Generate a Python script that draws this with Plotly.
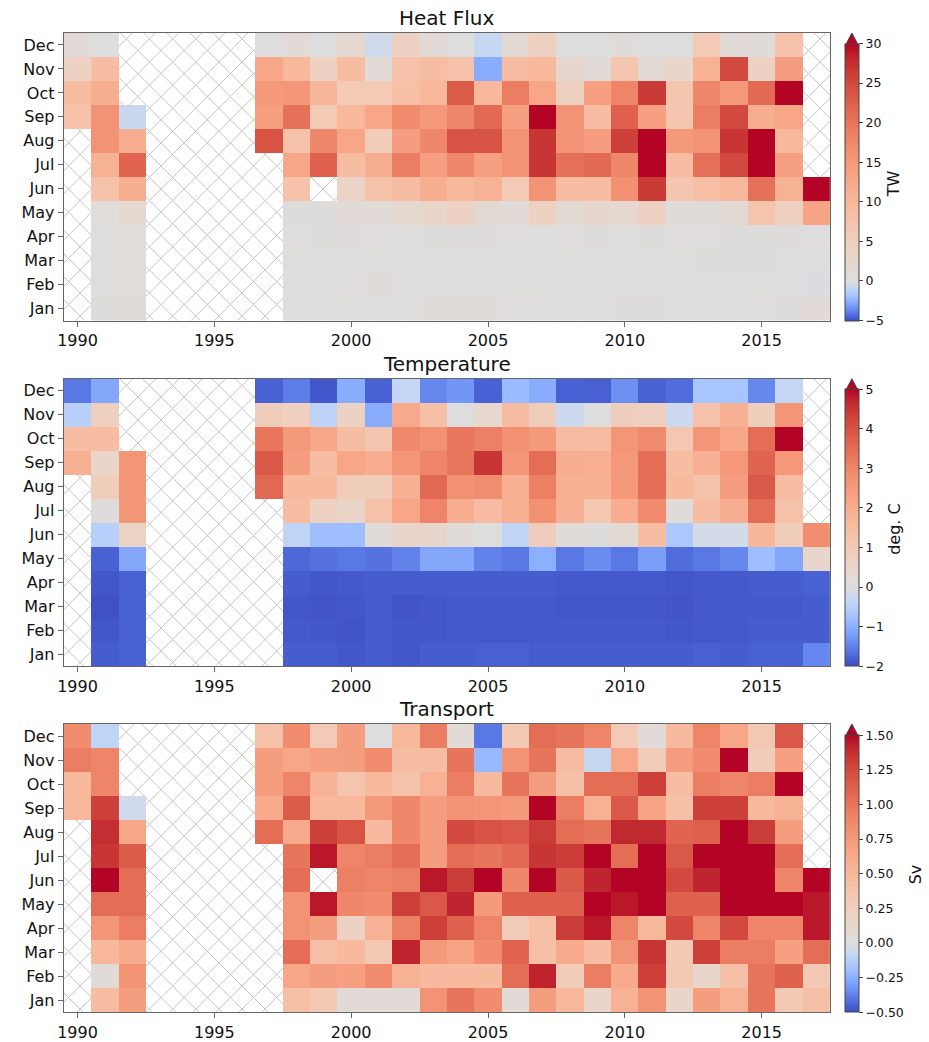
import plotly.graph_objects as go

# ---------------- data ----------------
years = list(range(1990, 2018))
months = ["Jan", "Feb", "Mar", "Apr", "May", "Jun", "Jul", "Aug", "Sep", "Oct", "Nov", "Dec"]
N = None

# Heat flux (TW), columns 1990..2017
heat_dec = [1, 0, N, N, N, N, N, 0, 1, 0, 2, -0.5, 4, 1, 0, -0.8, 1.5, 4.5, 0, 0, 0.7, 0, 0, 6, 1, 0.7, 8, N]
heat_nov = [4, 9, N, N, N, N, N, 13, 10, 4, 9, 1, 8, 9, 8, -2.6, 9, 10, 2.5, 1, 7, 1.5, 3, 11, 25, 4, 14.5, N]
heat_oct = [9, 12, N, N, N, N, N, 15, 15.5, 10.5, 6, 6, 8.5, 10, 23, 10, 19, 13, 4.5, 14, 18, 26.5, 7, 17.5, 15, 21.5, 31, N]
heat_sep = [8, 16, -0.7, N, N, N, N, 14, 20.5, 6, 10, 13, 17, 15, 17.5, 21.5, 14, 31, 16, 9, 22.5, 14, 7, 19, 25, 12, 13, N]
heat_aug = [N, 16, 12, N, N, N, N, 24, 8, 17.5, 13, 5.5, 14.5, 17.5, 24, 24, 16, 27, 16, 14.5, 26, 32, 15, 16, 27, 32, 10, N]
heat_jul = [N, 11, 22, N, N, N, N, N, 13, 22.5, 9, 12, 19, 14, 17.5, 14, 16, 27, 20.5, 21.5, 17.5, 32, 9, 20.5, 25, 32, 14, N]
heat_jun = [N, 8, 12, N, N, N, N, N, 8, N, 3.5, 8, 9, 12, 10, 11, 6, 16, 9, 9, 16.5, 26.5, 7, 8.8, 10, 20.5, 11, 31]
heat_may = [N, 0.5, 2, N, N, N, N, N, 0.3, 0.3, 1, 1, 2, 3, 4, 1.5, 1, 4, 1.5, 2.5, 2, 4, 0.8, 0.8, 1.5, 7.5, 4.5, 13.5]
heat_apr = [N, 0.2, 0.5, N, N, N, N, N, 0.2, 0.3, 0.3, 0.2, 0.2, 0.3, 0.3, 0.3, 0.2, 0.2, 0.2, 0.3, 0.2, 0.3, 0.2, 0.2, 0.3, 0.3, 0.3, 0.2]
heat_mar = [N, 0.2, 0.5, N, N, N, N, N, 0.1, 0.2, 0.1, 0.1, 0.2, 0.2, 0.1, 0.1, 0.2, 0.2, 0.1, 0.1, 0.2, 0.2, 0.1, 0.3, 0.3, 0.3, 0.1, 0]
heat_feb = [N, 0.2, 0.5, N, N, N, N, N, 0.1, 0.1, 0.2, 0.6, 0.2, 0.1, 0.1, 0.1, 0.1, 0.1, 0.1, 0.1, 0.1, 0.1, 0.2, 0.2, 0.2, 0.1, 0.1, -0.1]
heat_jan = [N, 0.3, 0.6, N, N, N, N, N, 0.1, 0.1, 0.1, 0.1, 0.2, 0.6, 0.6, 0.6, 0.2, 0.2, 0.1, 0.1, 0.3, 0.3, 0.2, 0.2, 0.2, 0.2, 0.3, 1]

# Temperature (deg. C)
temp_dec = [-1.6, -1.1, N, N, N, N, N, -1.8, -1.55, -1.9, -1.05, -1.8, -0.35, -1.45, -1.3, -1.8, -0.85, -1.05, -1.8, -1.82, -1.35, -1.8, -1.7, -0.7, -0.7, -1.45, -0.35, N]
temp_nov = [-0.5, 0.8, N, N, N, N, N, 0.9, 0.8, -0.45, 0.7, -1.05, 2.1, 1.4, 0, 0.4, 1.55, 0.9, -0.25, 0, 0.85, 0.75, -0.25, 1.35, 1.9, 0.85, 2.6, N]
temp_oct = [1.5, 1.5, N, N, N, N, N, 3.3, 2.5, 2.2, 1.5, 1.2, 2.9, 2.7, 3.3, 3.1, 2.7, 2.5, 1.55, 1.55, 2.6, 2.85, 1.15, 2.6, 2.2, 3.5, 5.1, N]
temp_sep = [1.9, 0.5, 2.6, N, N, N, N, 3.9, 2.4, 1.5, 2.2, 2.0, 2.6, 3.0, 3.3, 4.5, 2.6, 3.5, 2.0, 1.95, 2.55, 3.5, 1.5, 1.9, 2.55, 3.65, 2.55, N]
temp_aug = [N, 0.9, 2.6, N, N, N, N, 3.6, 1.6, 1.6, 0.9, 0.9, 1.9, 3.6, 2.7, 2.8, 1.9, 3.1, 1.9, 1.9, 2.5, 3.5, 1.6, 1.35, 2.45, 3.9, 1.5, N]
temp_jul = [N, 0.05, 2.6, N, N, N, N, N, 1.5, 0.75, 0.55, 1.35, 2.2, 3.0, 2.0, 1.55, 1.95, 2.7, 1.9, 1.15, 2.0, 2.85, 0.1, 1.5, 2.0, 3.5, 1.35, N]
temp_jun = [N, -0.5, 0.6, N, N, N, N, N, -0.4, -0.8, -0.8, 0.1, 0.5, 0.45, 0.1, 0, -0.4, 0.9, 0.15, 0.05, 0.25, 1.5, -0.65, -0.15, -0.15, 1.7, 0.9, 2.8]
temp_may = [N, -1.8, -1.1, N, N, N, N, N, -1.75, -1.65, -1.6, -1.65, -1.5, -1.1, -1.1, -1.5, -1.6, -1.0, -1.6, -1.4, -1.6, -1.2, -1.7, -1.6, -1.45, -0.8, -1.1, 0.45]
temp_apr = [N, -1.9, -1.8, N, N, N, N, N, -1.85, -1.9, -1.88, -1.85, -1.85, -1.85, -1.85, -1.85, -1.85, -1.85, -1.88, -1.88, -1.88, -1.88, -1.9, -1.88, -1.88, -1.85, -1.85, -1.8]
temp_mar = [N, -1.95, -1.8, N, N, N, N, N, -1.9, -1.92, -1.9, -1.85, -1.92, -1.9, -1.88, -1.88, -1.88, -1.88, -1.9, -1.9, -1.9, -1.9, -1.92, -1.88, -1.88, -1.88, -1.88, -1.85]
temp_feb = [N, -1.9, -1.8, N, N, N, N, N, -1.88, -1.9, -1.92, -1.85, -1.9, -1.9, -1.88, -1.88, -1.88, -1.88, -1.88, -1.88, -1.88, -1.88, -1.9, -1.88, -1.88, -1.85, -1.85, -1.85]
temp_jan = [N, -1.85, -1.8, N, N, N, N, N, -1.85, -1.85, -1.9, -1.85, -1.9, -1.85, -1.85, -1.82, -1.82, -1.85, -1.85, -1.85, -1.85, -1.85, -1.85, -1.82, -1.85, -1.8, -1.8, -1.45]

# Transport (Sv)
trans_dec = [0.85, -0.1, N, N, N, N, N, 0.4, 0.85, 0.3, 0.72, 0, 0.5, 0.95, 0.05, -0.4, 0.32, 1.05, 1.0, 0.9, 0.3, 0.05, 0.48, 0.9, 0.65, 0.32, 1.17, N]
trans_nov = [0.95, 0.9, N, N, N, N, N, 0.72, 0.65, 0.7, 0.72, 0.85, 0.45, 0.45, 1.0, -0.22, 0.8, 1.0, 0.45, -0.08, 0.65, 0.28, 0.72, 0.85, 1.55, 0.28, 0.7, N]
trans_oct = [0.5, 0.9, N, N, N, N, N, 0.72, 0.9, 0.55, 0.38, 0.5, 0.4, 0.55, 0.95, 0.48, 1.0, 0.72, 0.42, 1.05, 1.05, 1.3, 0.45, 0.95, 0.9, 0.95, 1.55, N]
trans_sep = [0.5, 1.3, -0.05, N, N, N, N, 0.62, 1.15, 0.5, 0.5, 0.75, 0.88, 0.72, 0.8, 0.78, 0.75, 1.55, 0.95, 0.55, 1.17, 0.67, 0.42, 1.3, 1.3, 0.5, 0.55, N]
trans_aug = [N, 1.38, 0.65, N, N, N, N, 1.05, 0.62, 1.3, 1.2, 0.48, 0.88, 0.72, 1.25, 1.2, 1.17, 1.32, 1.05, 1.0, 1.4, 1.4, 1.1, 1.12, 1.55, 1.32, 0.72, N]
trans_jul = [N, 1.35, 1.15, N, N, N, N, N, 1.0, 1.45, 0.9, 0.95, 1.05, 0.72, 1.05, 1.0, 1.07, 1.35, 1.32, 1.55, 1.05, 1.6, 1.17, 1.6, 1.6, 1.6, 1.05, N]
trans_jun = [N, 1.55, 1.05, N, N, N, N, N, 1.05, N, 0.93, 0.9, 0.93, 1.45, 1.32, 1.55, 0.88, 1.5, 1.17, 1.42, 1.55, 1.6, 1.25, 1.42, 1.6, 1.5, 0.9, 1.6]
trans_may = [N, 1.05, 1.05, N, N, N, N, N, 0.8, 1.45, 0.88, 0.85, 1.3, 1.17, 1.42, 0.75, 1.12, 1.12, 1.12, 1.5, 1.45, 1.55, 1.12, 1.12, 1.6, 1.6, 1.6, 1.45]
trans_apr = [N, 0.78, 0.95, N, N, N, N, N, 0.8, 0.72, 0.2, 0.55, 0.93, 1.3, 1.12, 0.9, 0.28, 0.42, 1.32, 1.45, 0.9, 0.5, 1.25, 0.9, 1.25, 0.9, 0.9, 1.45]
trans_mar = [N, 0.5, 0.62, N, N, N, N, N, 1.05, 0.42, 0.48, 0.32, 1.42, 0.75, 0.67, 0.85, 1.1, 0.42, 0.62, 0.45, 0.8, 1.35, 0.32, 1.3, 0.95, 0.95, 0.7, 1.05]
trans_feb = [N, 0.05, 0.8, N, N, N, N, N, 0.65, 0.72, 0.7, 0.85, 0.55, 0.48, 0.48, 0.48, 1.05, 1.42, 0.28, 0.95, 0.62, 1.3, 0.32, 0.15, 0.42, 1.0, 1.12, 0.32]
trans_jan = [N, 0.45, 0.72, N, N, N, N, N, 0.42, 0.32, 0.05, 0.05, 0.05, 0.8, 1.0, 0.85, 0.05, 0.72, 0.5, 0.15, 0.55, 0.8, 0.15, 0.72, 0.55, 1.0, 0.32, 0.42]

heat_ticks = [-5, 0, 5, 10, 15, 20, 25, 30]
temp_ticks = [-2, -1, 0, 1, 2, 3, 4, 5]
trans_ticks = [-0.5, -0.25, 0, 0.25, 0.5, 0.75, 1.0, 1.25, 1.5]
year_ticks = [1990, 1995, 2000, 2005, 2010, 2015]

# ---------------- colormap (matplotlib coolwarm) ----------------
COOLWARM = [
    (59, 76, 192), (68, 90, 204), (77, 104, 215), (87, 117, 225), (98, 130, 234),
    (108, 142, 241), (119, 154, 247), (130, 165, 251), (141, 176, 254), (152, 185, 255),
    (163, 194, 255), (174, 201, 253), (184, 208, 249), (194, 213, 244), (204, 217, 238),
    (213, 219, 230), (221, 221, 221), (229, 216, 209), (236, 211, 197), (241, 204, 184),
    (245, 196, 173), (247, 187, 160), (247, 177, 148), (247, 166, 135), (244, 154, 123),
    (241, 141, 111), (236, 127, 99), (229, 112, 88), (222, 96, 77), (213, 80, 66),
    (203, 62, 56), (192, 40, 47), (180, 4, 38)]


def diverging_scale(vmin, vmax):
    p0 = -vmin / (vmax - vmin)
    n = len(COOLWARM) - 1
    scale = []
    for i, c in enumerate(COOLWARM):
        f = i / n
        pos = f / 0.5 * p0 if f <= 0.5 else p0 + (f - 0.5) / 0.5 * (1 - p0)
        scale.append([pos, "rgb(%d,%d,%d)" % c])
    return scale


def fmt_tick(v, dec):
    s = ("%." + str(dec) + "f") % abs(v)
    return ("\u2212" + s) if v < 0 else s


# ---------------- layout geometry (pixels) ----------------
W, H = 929, 1042
L_PX, R_PX = 57.3, 829.3
panels = [
    dict(name="Heat Flux", unit="TW", rows=[heat_jan, heat_feb, heat_mar, heat_apr, heat_may, heat_jun,
                                           heat_jul, heat_aug, heat_sep, heat_oct, heat_nov, heat_dec],
         vmin=-5, vmax=30, ticks=heat_ticks, dec=0, top=33.3, bot=323.3, unit_x=893.5),
    dict(name="Temperature", unit="deg. C", rows=[temp_jan, temp_feb, temp_mar, temp_apr, temp_may, temp_jun,
                                                 temp_jul, temp_aug, temp_sep, temp_oct, temp_nov, temp_dec],
         vmin=-2, vmax=5, ticks=temp_ticks, dec=0, top=382.0, bot=672.0, unit_x=893.5),
    dict(name="Transport", unit="Sv", rows=[trans_jan, trans_feb, trans_mar, trans_apr, trans_may, trans_jun,
                                           trans_jul, trans_aug, trans_sep, trans_oct, trans_nov, trans_dec],
         vmin=-0.5, vmax=1.5, ticks=trans_ticks, dec=2, top=730.3, bot=1021.0, unit_x=915.5),
]

FONT = "DejaVu Sans"
AXCOL = "#666666"
fig = go.Figure()
shapes = []
annotations = []

CB_X0, CB_W, TRI_H = 844.3, 14.0, 13.4
HATCH_P = 23.3
HATCH_REF = (318.3, 190.7)

x_lo, x_hi = years[0] - 0.5, years[-1] + 0.5
y_lo, y_hi = -0.5, len(months) - 0.5

for i, p in enumerate(panels):
    k = "" if i == 0 else str(i + 1)
    top, bot = p["top"], p["bot"]
    ydom = [1 - bot / H, 1 - top / H]
    xdom = [L_PX / W, R_PX / W]
    cb_len = (bot - top) - TRI_H

    fig.add_trace(go.Heatmap(
        x=years, y=list(range(12)), z=p["rows"],
        zmin=p["vmin"], zmax=p["vmax"],
        colorscale=diverging_scale(p["vmin"], p["vmax"]),
        xaxis="x" + k, yaxis="y" + k, hoverinfo="skip",
        colorbar=dict(
            x=CB_X0 / W, xanchor="left", xpad=0,
            y=ydom[0], yanchor="bottom", ypad=0,
            len=cb_len, lenmode="pixels", thickness=CB_W,
            outlinewidth=1, outlinecolor="#444444",
            tickmode="array", tickvals=p["ticks"],
            ticktext=[fmt_tick(v, p["dec"]) for v in p["ticks"]],
            ticks="outside", ticklen=4, tickwidth=1, tickcolor="#444444",
            tickfont=dict(family=FONT, size=12.5, color="#111111"),
        ),
    ))

    fig.update_layout(**{
        "xaxis" + k: dict(domain=xdom, range=[x_lo, x_hi], anchor="y" + k,
                          tickmode="array", tickvals=year_ticks, ticks="outside", ticklen=5,
                          tickwidth=1.2, tickcolor=AXCOL, showline=True, mirror=True,
                          linecolor=AXCOL, linewidth=1.4, showgrid=False, zeroline=False,
                          tickfont=dict(family=FONT, size=16, color="#111111")),
        "yaxis" + k: dict(domain=ydom, range=[y_lo, y_hi], anchor="x" + k,
                          tickmode="array", tickvals=list(range(12)), ticktext=months,
                          ticks="outside", ticklen=5, tickwidth=1.2, tickcolor=AXCOL,
                          showline=True, mirror=True, linecolor=AXCOL, linewidth=1.4,
                          showgrid=False, zeroline=False,
                          tickfont=dict(family=FONT, size=16, color="#111111")),
    })

    # hatch for missing data (drawn below the heatmap, clipped to the axes)
    sx = (R_PX - L_PX) / (x_hi - x_lo)
    sy = (bot - top) / (y_hi - y_lo)

    def to_data(px, py):
        return x_lo + (px - L_PX) / sx, y_hi - (py - top) / sy

    segs_a, segs_b = [], []
    ca0 = HATCH_REF[0] - HATCH_REF[1]
    cb0 = HATCH_REF[0] + HATCH_REF[1]
    xa, xb = L_PX - 60, R_PX + 60
    for n in range(-80, 80):
        ca = ca0 + n * HATCH_P
        if L_PX - bot - HATCH_P < ca < R_PX - top + HATCH_P:
            (u0, v0), (u1, v1) = to_data(xa, xa - ca), to_data(xb, xb - ca)
            segs_a.append("M%.4f,%.4f L%.4f,%.4f" % (u0, v0, u1, v1))
        cbv = cb0 + n * HATCH_P
        if L_PX + top - HATCH_P < cbv < R_PX + bot + HATCH_P:
            (u0, v0), (u1, v1) = to_data(xa, cbv - xa), to_data(xb, cbv - xb)
            segs_b.append("M%.4f,%.4f L%.4f,%.4f" % (u0, v0, u1, v1))
    for segs in (segs_a, segs_b):
        shapes.append(dict(type="path", path=" ".join(segs), xref="x" + k, yref="y" + k,
                           layer="below", line=dict(color="#c4c4c4", width=1)))

    # extend-max triangle on the colorbar
    tri_base = top + TRI_H
    shapes.append(dict(
        type="path", xref="paper", yref="paper", layer="above",
        path="M%.5f,%.5f L%.5f,%.5f L%.5f,%.5f Z" % (
            CB_X0 / W, 1 - tri_base / H,
            (CB_X0 + CB_W) / W, 1 - tri_base / H,
            (CB_X0 + CB_W / 2) / W, 1 - top / H),
        fillcolor="rgb(%d,%d,%d)" % COOLWARM[-1], line=dict(color="#444444", width=1)))

    # panel title
    annotations.append(dict(text=p["name"], x=(xdom[0] + xdom[1]) / 2, y=ydom[1],
                            xref="paper", yref="paper", xanchor="center", yanchor="bottom",
                            yshift=1, showarrow=False,
                            font=dict(family=FONT, size=20, color="#111111")))
    # colorbar label
    annotations.append(dict(text=p["unit"], x=p["unit_x"] / W, y=1 - (tri_base + bot) / 2 / H,
                            xref="paper", yref="paper", xanchor="center", yanchor="middle",
                            textangle=-90, showarrow=False,
                            font=dict(family=FONT, size=16, color="#111111")))

fig.update_layout(
    width=W, height=H, margin=dict(l=0, r=0, t=0, b=0),
    paper_bgcolor="white", plot_bgcolor="white",
    shapes=shapes, annotations=annotations, showlegend=False,
    font=dict(family=FONT),
)

fig.write_html(
    "out.html",
    config={"displayModeBar": False},
    post_script="document.body.style.margin='0';document.body.style.overflow='hidden';",
)
